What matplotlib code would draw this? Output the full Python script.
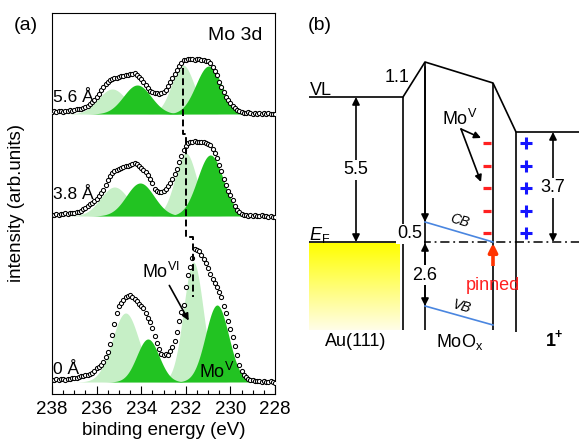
import numpy as np
import matplotlib.pyplot as plt
from matplotlib.ticker import MultipleLocator
from matplotlib.colors import LinearSegmentedColormap

plt.rcParams['font.family'] = ['Liberation Sans', 'DejaVu Sans']
plt.rcParams['mathtext.fontset'] = 'custom'
plt.rcParams['mathtext.rm'] = 'Liberation Sans'
plt.rcParams['mathtext.it'] = 'Liberation Sans:italic'
plt.rcParams['mathtext.bf'] = 'Liberation Sans:bold'

# binding energy grid of the measured points (eV), 238.0 -> 228.0
energy = np.round(np.arange(238.0, 227.95, -0.1), 1)

# measured intensities (arb. units) for each MoOx thickness
int_56 = [2, 3, 2, 3, 3, 2, 3, 3, 4, 3,
          4, 5, 5, 5, 6, 7, 8, 10, 12, 14,
          17, 20, 24, 27, 30, 32, 34, 35, 36, 36,
          37, 38, 38, 39, 39, 40, 40, 41, 39, 37,
          35, 32, 29, 26, 23, 22, 21, 21, 20, 21,
          22, 24, 28, 32, 36, 40, 44, 48, 51, 54,
          54, 55, 55, 55, 54, 55, 55, 54, 54, 53,
          53, 51, 47, 43, 39, 32, 27, 22, 17, 14,
          11, 8, 6, 4, 3, 2, 1, 1, 2, 1,
          0, 1, 0, 1, 0, 1, 0, 1, 0, 0,
          0]
int_38 = [1, 1, 2, 1, 2, 2, 3, 2, 3, 3,
          3, 4, 4, 5, 7, 8, 10, 12, 13, 15,
          17, 20, 23, 26, 31, 36, 40, 43, 45, 46,
          47, 48, 49, 50, 50, 51, 52, 53, 52, 50,
          48, 46, 44, 41, 37, 33, 27, 25, 24, 24,
          25, 27, 30, 33, 37, 42, 47, 54, 60, 66,
          70, 73, 74, 74, 75, 74, 74, 74, 74, 73,
          72, 71, 67, 63, 58, 51, 45, 37, 31, 25,
          21, 16, 10, 6, 4, 2, 1, 1, 0, 1,
          0, 1, 0, 0, 1, 0, 0, -1, 0, -1,
          -1]
int_00 = [2, 2, 3, 2, 3, 3, 2, 3, 3, 4,
          4, 4, 5, 6, 6, 7, 7, 8, 9, 11,
          14, 15, 17, 20, 25, 30, 38, 47, 58, 69,
          76, 79, 82, 85, 86, 87, 85, 83, 81, 78,
          76, 74, 69, 64, 60, 54, 46, 39, 33, 28,
          27, 28, 27, 31, 35, 41, 50, 61, 70, 77,
          95, 107, 115, 124, 133, 132, 131, 127, 123, 119,
          114, 108, 103, 99, 95, 90, 85, 76, 69, 61,
          53, 45, 36, 27, 17, 11, 7, 5, 3, 2,
          2, 1, 1, 1, 0, 1, 0, 0, 1, 0,
          -1]

# fitted components: (center eV, height, sigma)
movi_56 = [(235.30, 25, 0.62), (232.13, 49, 0.50)]
mov_56 = [(234.18, 29, 0.62), (230.97, 48, 0.58)]
movi_38 = [(235.20, 29, 0.62), (232.00, 63, 0.48)]
mov_38 = [(234.05, 33, 0.62), (230.90, 61, 0.58)]
movi_00 = [(234.70, 69, 0.60), (231.66, 120, 0.44)]
mov_00 = [(233.70, 43, 0.50), (230.60, 77, 0.52)]

offsets = [280, 178, 12]
thick_labels = ['5.6 Å', '3.8 Å', '0 Å']

light = '#c6efc6'
dark = '#22c322'

fig = plt.figure(figsize=(5.79, 4.41), dpi=100)
ax = fig.add_axes([52 / 579, 47 / 441, 223 / 579, 381 / 441])

xf = np.linspace(238, 228, 800)


def gauss(c, h, s):
    return h * np.exp(-(xf - c) ** 2 / (2 * s ** 2))


spectra = [(int_56, movi_56, mov_56), (int_38, movi_38, mov_38), (int_00, movi_00, mov_00)]
for base, (data, vi, v) in zip(offsets, spectra):
    for c, h, s in vi:
        ax.fill_between(xf, base, base + gauss(c, h, s), color=light, lw=0, zorder=1)
    for c, h, s in v:
        ax.fill_between(xf, base, base + gauss(c, h, s), color=dark, lw=0, zorder=2)
    ax.plot(energy, base + np.array(data), 'o', ms=3.0, mfc='white', mec='black',
            mew=0.75, zorder=4)

# dashed guide through the Mo(VI) 3d5/2 peak positions
vi_pos = [movi_56[1][0], movi_38[1][0], movi_00[1][0]]
dash_x = [vi_pos[0], vi_pos[0], vi_pos[1], vi_pos[1], vi_pos[2], vi_pos[2]]
dash_y = [326, 260, 260, 157, 157, 97]
ax.plot(dash_x, dash_y, color='black', lw=1.4, ls=(0, (3.5, 1.8)), zorder=5)

ax.set_xlim(238, 228)
ax.set_ylim(0, 381)
ax.set_yticks([])
ax.set_xticks([238, 236, 234, 232, 230, 228])
ax.xaxis.set_minor_locator(MultipleLocator(0.5))
ax.tick_params(axis='x', which='major', direction='in', length=6, width=0.8,
               labelsize=13.5, pad=5)
ax.tick_params(axis='x', which='minor', direction='in', length=3, width=0.8)
for sp in ax.spines.values():
    sp.set_linewidth(0.8)
ax.set_xlabel('binding energy (eV)', fontsize=13.5, labelpad=3)

ax.text(228.58, 359, 'Mo 3d', ha='right', va='center', fontsize=14)
for y, lab in zip([297, 200, 25], thick_labels):
    ax.text(237.95, y, lab, ha='left', va='center', fontsize=12.5,
            zorder=6)
ax.text(233.96, 116, r'Mo$^{\rm VI}$', ha='left', va='baseline', fontsize=13)
ax.annotate('', xy=(231.81, 71), xytext=(232.8, 111),
            arrowprops=dict(arrowstyle='-|>', color='black', lw=1.2, mutation_scale=10))
ax.text(231.41, 16, r'Mo$^{\rm V}$', ha='left', va='baseline', fontsize=13, zorder=6)

fig.text(17 / 579, 1 - 203 / 441, 'intensity (arb.units)', rotation=90,
         ha='center', va='center', fontsize=13.5)
fig.text(26 / 579, 1 - 25 / 441, '(a)', ha='center', va='center', fontsize=14)
fig.text(320 / 579, 1 - 26 / 441, '(b)', ha='center', va='center', fontsize=14)

# ---------------- (b) energy level diagram ----------------
bx = fig.add_axes([290 / 579, 0, 289 / 579, 1])
bx.axis('off')

x_au0, x_au, x_mo0, x_mo1, x_org, x_end = 309, 403, 425, 493, 516, 579
y_vl, y_top, y_mo_r, y_org, y_ef, y_bot = 97, 62, 83, 132, 242, 330
cb_y = [222, 242]
vb_y = [306, 325]

grad = np.linspace(0, 1, 256).reshape(-1, 1)
cmap = LinearSegmentedColormap.from_list('au', ['#ffff00', '#fffde8'])
bx.imshow(grad, extent=[x_au0, x_au - 3, y_bot, y_ef + 1], cmap=cmap,
          aspect='auto', zorder=0)

lk = dict(color='black', lw=1.2, solid_capstyle='butt')
bx.plot([x_au0, x_au, x_au, x_mo0, x_mo1, x_org, x_end],
        [y_vl, y_vl, y_vl, y_top, y_mo_r, y_org, y_org], **lk)
bx.plot([x_au, x_au], [y_vl, y_bot], **lk)
bx.plot([x_mo1, x_mo1], [y_mo_r, y_bot], **lk)
bx.plot([x_org, x_org], [y_org, y_bot + 2], **lk)
bx.plot([x_mo0, x_mo0], [y_top, y_bot], **lk)
bx.plot([x_au0, x_au], [y_ef, y_ef], **lk)
bx.plot([x_au, x_end], [y_ef, y_ef], color='black', lw=1.1,
        ls=(0, (6, 2.5, 1.2, 2.5)))

# CB / VB
bx.plot([x_mo0, x_mo1], cb_y, color='#4a86e0', lw=1.2)
bx.plot([x_mo0, x_mo1], vb_y, color='#4a86e0', lw=1.2)
bx.text(460, 221, 'CB', style='italic', fontsize=10, ha='center', va='center',
        rotation=-16)
bx.text(462, 307, 'VB', style='italic', fontsize=10, ha='center', va='center',
        rotation=-16)

ak = dict(arrowstyle='-|>', color='black', lw=1.2, mutation_scale=11,
          shrinkA=0, shrinkB=0)
dk = dict(arrowstyle='<|-|>', color='black', lw=1.2, mutation_scale=11,
          shrinkA=0, shrinkB=0)
bx.annotate('', xy=(x_mo0, cb_y[0]), xytext=(x_mo0, y_top + 5), arrowprops=ak)
bx.annotate('', xy=(x_mo0, vb_y[0]), xytext=(x_mo0, y_ef + 1), arrowprops=dk)
bx.annotate('', xy=(356, y_vl), xytext=(356, y_ef), arrowprops=dk)
bx.annotate('', xy=(553, y_org), xytext=(553, y_ef), arrowprops=dk)

wb = dict(facecolor='white', edgecolor='none', pad=1)
bx.text(356, 170, '5.5', ha='center', va='center', fontsize=13, bbox=wb)
bx.text(553, 188, '3.7', ha='center', va='center', fontsize=13, bbox=wb)
bx.text(410, 234, '0.5', ha='center', va='center', fontsize=13, bbox=wb, zorder=5)
bx.text(425, 275, '2.6', ha='center', va='center', fontsize=13, bbox=wb, zorder=5)
bx.text(397, 78, '1.1', ha='center', va='center', fontsize=13)
bx.text(310, 95, 'VL', ha='left', va='baseline', fontsize=13)
bx.text(309, 240, r'$E_{\rm F}$', ha='left', va='baseline', fontsize=13)

# Mo(V) states and image charges
charge_y = [143, 166, 188, 211, 233]
bx.plot([487] * len(charge_y), charge_y, ls='none', marker='_', ms=5.5, mew=2.3,
        color='#ff2020')
bx.plot([526] * len(charge_y), charge_y, ls='none', marker='+', ms=8, mew=2.2,
        color='#1515ff')
bx.text(442, 125, r'Mo$^{\rm V}$', ha='left', va='baseline', fontsize=13)
bx.annotate('', xy=(481, 138), xytext=(461, 129),
            arrowprops=dict(arrowstyle='-|>', color='black', lw=1.2, mutation_scale=10,
                            shrinkA=0, shrinkB=0))
bx.annotate('', xy=(481, 182), xytext=(461, 129),
            arrowprops=dict(arrowstyle='-|>', color='black', lw=1.2, mutation_scale=10,
                            shrinkA=0, shrinkB=0))

bx.annotate('', xy=(x_mo1, y_ef + 1), xytext=(x_mo1, 266),
            arrowprops=dict(arrowstyle='-|>', color='#ff3300', lw=2.6,
                            mutation_scale=13, shrinkA=0, shrinkB=0,
                            capstyle='butt'))
bx.text(493, 286, 'pinned', color='#ff2020', ha='center', va='center', fontsize=13)

bx.text(356, 342, 'Au(111)', ha='center', va='center', fontsize=13)
bx.text(460, 342, r'MoO$_{\rm x}$', ha='center', va='center', fontsize=13)
bx.text(551, 342, '1', ha='center', va='center', fontsize=13, fontweight='bold')
bx.text(558.5, 335, '+', ha='center', va='center', fontsize=9, fontweight='bold')

bx.set_xlim(290, 579)
bx.set_ylim(441, 0)

fig.savefig('out.png', dpi=100)
